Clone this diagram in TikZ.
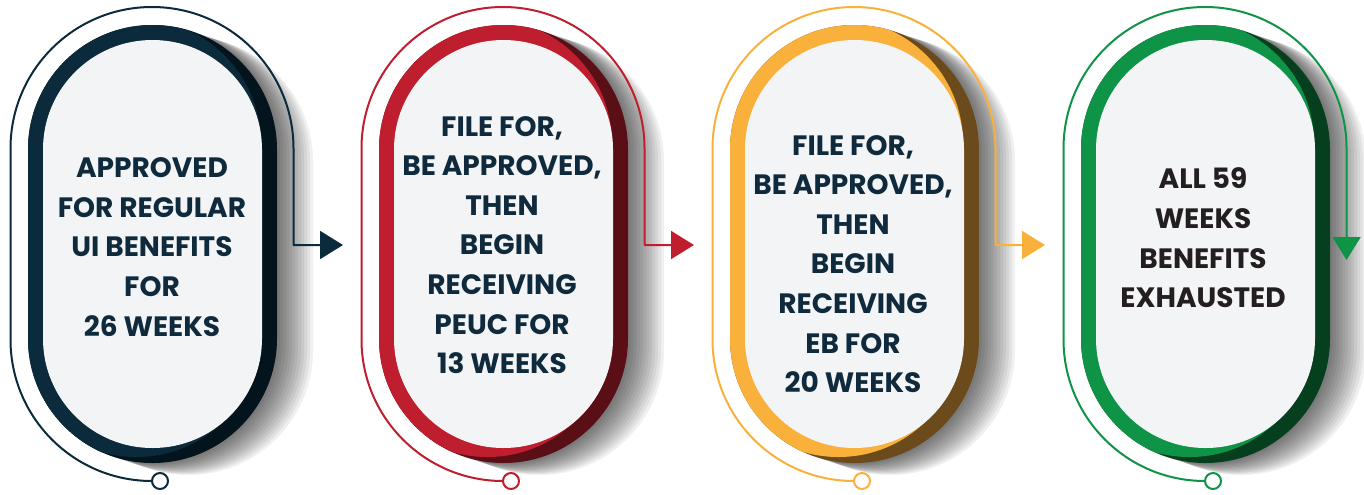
\documentclass[tikz,border=0pt]{standalone}
\usepackage{fontspec}
\setmainfont{Poppins}
\usepackage{tikz}
\usetikzlibrary{arrows.meta}
\definecolor{navy}{HTML}{0B2A3B}
\definecolor{navyd}{HTML}{04141D}
\definecolor{crimson}{HTML}{BE1E2D}
\definecolor{crimsond}{HTML}{5A0F16}
\definecolor{amber}{HTML}{F9B13C}
\definecolor{amberd}{HTML}{6B4A1B}
\definecolor{leaf}{HTML}{0F9447}
\definecolor{leafd}{HTML}{063F1E}
\definecolor{paper}{HTML}{F3F4F6}
\definecolor{ink}{HTML}{0F2A3C}
\definecolor{inkd}{HTML}{231F20}

\begin{document}
\begin{tikzpicture}[x=0.5pt,y=-0.5pt,line cap=round,line join=round,
  trackline/.style={line width=1pt},
  dotnode/.style={circle,draw,line width=1pt,fill=white,minimum size=8pt,inner sep=0pt,outer sep=0pt},
  steptext/.style={align=center,font=\bfseries\fontsize{14}{19.8}\selectfont},
  >={Triangle[length=11.5pt,width=14pt]}]
\useasboundingbox (0,0) rectangle (1364,494);
% the four pills
\foreach \i/\main/\dark in {0/navy/navyd,1/crimson/crimsond,2/amber/amberd,3/leaf/leafd}{
\begin{scope}[xshift=\i*175.5pt]
\foreach \k in {1,...,12}
  \fill[black,opacity=0.06,rounded corners=62.2pt] (28+3*\k,25+\k) rectangle (277+3*\k,463+\k);
\fill[\dark,rounded corners=62.2pt] (28,25) rectangle (277,463);
\begin{scope}
\clip[rounded corners=62.2pt] (28,25) rectangle (277,463);
\fill[\main,rounded corners=62.2pt] (12,19) rectangle (261,457);
\end{scope}
\fill[paper,rounded corners=54.7pt] (43,40) rectangle (262,448);
\end{scope}
}
% labels
\node[steptext,text=ink] (txt1) at (152,247) {APPROVED\\FOR REGULAR\\UI BENEFITS\\FOR\\26 WEEKS};
\node[steptext,text=ink] (txt2) at (502,245) {FILE FOR,\\BE APPROVED,\\THEN\\BEGIN\\RECEIVING\\PEUC FOR\\13 WEEKS};
\node[steptext,text=ink] (txt3) at (853,264) {FILE FOR,\\BE APPROVED,\\THEN\\BEGIN\\RECEIVING\\EB FOR\\20 WEEKS};
\node[steptext,text=inkd] (txt4) at (1203,238) {ALL 59\\WEEKS\\BENEFITS\\EXHAUSTED};
% tracks
\node[dotnode,draw=navy] (dot1) at (160,481) {};
\node[dotnode,draw=crimson] (dot2) at (511,481) {};
\node[dotnode,draw=amber] (dot3) at (862,481) {};
\node[dotnode,draw=leaf] (dot4) at (1213,481) {};
\coordinate (tip1) at (343,245);
\coordinate (tip2) at (694,245);
\coordinate (tip3) at (1045,245);
\coordinate (tip4) at (1346.5,260);
\draw[trackline,navy,->] (dot1.west) arc[start angle=90,end angle=180,radius=141.5] -- ++(0,-191) arc[start angle=180,end angle=360,radius=141.5] |- (tip1);
\draw[trackline,crimson,->] (dot2.west) arc[start angle=90,end angle=180,radius=141.5] -- ++(0,-191) arc[start angle=180,end angle=360,radius=141.5] |- (tip2);
\draw[trackline,amber,->] (dot3.west) arc[start angle=90,end angle=180,radius=141.5] -- ++(0,-191) arc[start angle=180,end angle=360,radius=141.5] |- (tip3);
\draw[trackline,leaf,->] (dot4.west) arc[start angle=90,end angle=180,radius=141.5] -- ++(0,-191) arc[start angle=180,end angle=360,radius=141.5] -- (tip4);
\end{tikzpicture}
\end{document}
